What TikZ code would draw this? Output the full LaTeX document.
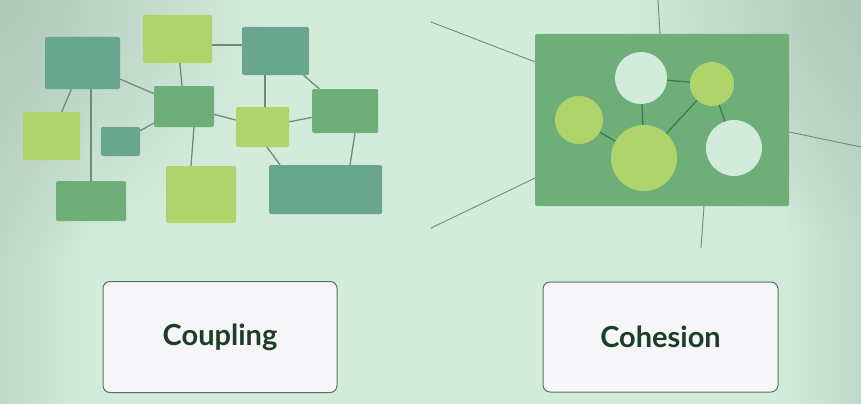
\documentclass[tikz,border=0pt]{standalone}
\usepackage{fontspec}
\setmainfont{Lato}
\usetikzlibrary{calc,fadings}
\definecolor{bgmint}{HTML}{D3EBDB}
\definecolor{bgshade}{HTML}{B0C8B9}
\definecolor{boxteal}{HTML}{68A690}
\definecolor{boxmoss}{HTML}{6EAF79}
\definecolor{boxlime}{HTML}{B0D46C}
\definecolor{linkgray}{HTML}{6F8C79}
\definecolor{innerlink}{HTML}{3E7A4C}
\definecolor{labelink}{HTML}{1E3D25}
\definecolor{labelrim}{HTML}{56745C}
\definecolor{labelfill}{HTML}{F6F6F8}
\tikzfading[name=fadeoutright, left color=transparent!0, right color=transparent!100]
\tikzfading[name=fadeoutleft, left color=transparent!100, right color=transparent!0]
\tikzfading[name=fadeoutcirc, inner color=transparent!0, outer color=transparent!100]
\tikzset{
  blk/.style={rectangle, rounded corners=1.5pt, inner sep=0pt},
  tealblk/.style={blk, fill=boxteal},
  mossblk/.style={blk, fill=boxmoss},
  limeblk/.style={blk, fill=boxlime},
  dot/.style={circle, inner sep=0pt},
  limedot/.style={dot, fill=boxlime},
  paledot/.style={dot, fill=bgmint},
  link/.style={draw=linkgray, line width=1.3pt},
  thinlink/.style={draw=linkgray!85!gray, line width=0.9pt},
  innerlinks/.style={draw=innerlink, line width=1.3pt},
  labelbox/.style={rectangle, rounded corners=7pt, draw=labelrim, line width=1pt,
    fill=labelfill, text=labelink, font=\bfseries\fontsize{29}{33}\selectfont}
}
\newcommand{\blk}[5]{\node[#1, minimum width=#4pt, minimum height=#5pt] (#2) at (#3) {};}
\newcommand{\dt}[4]{\node[#1, minimum size=#4pt] (#2) at (#3) {};}

\begin{document}
\begin{tikzpicture}[x=1pt, y=-1pt]
\useasboundingbox (0,0) rectangle (861,404);
% background
\begin{scope}
\clip (0,0) rectangle (861,404);
\fill[bgmint] (0,0) rectangle (861,404);
\fill[bgshade, opacity=0.5, path fading=fadeoutright] (0,0) rectangle (90,404);
\fill[bgshade, opacity=0.5, path fading=fadeoutleft] (780,0) rectangle (861,404);
\fill[bgshade, path fading=fadeoutcirc] (0,0) circle (260);
\fill[bgshade, path fading=fadeoutcirc] (861,0) circle (240);
\end{scope}
% coupling blocks
\blk{tealblk}{A}{82.5,63}{75}{52}
\blk{limeblk}{B}{177.5,39}{69}{48}
\blk{tealblk}{C}{275.5,51}{67}{48}
\blk{limeblk}{D}{51.5,136}{57}{48}
\blk{tealblk}{E}{120.5,141.5}{39}{29}
\blk{mossblk}{F}{184,106.5}{60}{41}
\blk{limeblk}{G}{262.5,127}{53}{40}
\blk{mossblk}{H}{345,111}{66}{44}
\blk{mossblk}{I}{91,201}{70}{40}
\blk{limeblk}{J}{201,194.5}{70}{57}
\blk{tealblk}{K}{325.5,189.5}{113}{49}
% coupling links
\draw[link] (A) -- (D);
\draw[link] (A.south -| I.north) -- (I.north);
\draw[link] (A) -- (F);
\draw[link] (B) -- (F);
\draw[link] ([yshift=-6pt]B.east) -- ([yshift=-6pt]B.east -| C.west);
\draw[link] (E) -- (F);
\draw[link] ([xshift=10pt]F.south) -- ([xshift=-10pt]J.north);
\draw[link] (F) -- (G);
\draw[link] ([xshift=2.5pt]C.south -| G.north) -- ([xshift=2.5pt]G.north);
\draw[link] (C) -- (H);
\draw[link] (G) -- (H);
\draw[link] ([xshift=4.5pt]G.south) -- ([xshift=-45.5pt]K.north);
\draw[link] ([xshift=10pt]H.south) -- ([xshift=24.5pt]K.north);
% cohesion module
\node[mossblk, minimum width=254pt, minimum height=172pt] (R) at (662,120) {};
\dt{paledot}{c1}{641,78}{52}
\dt{limedot}{c2}{712,84}{44}
\dt{limedot}{c3}{579,120}{48}
\dt{limedot}{c4}{644,158}{66}
\dt{paledot}{c5}{734,148}{56}
\draw[innerlinks] (c1) -- (c2);
\draw[innerlinks] (c1) -- (c4);
\draw[innerlinks] (c3) -- (c4);
\draw[innerlinks] (c4) -- (c2);
\draw[innerlinks] (c2) -- (c5);
% outer links
\coordinate (o1) at (658,0);
\coordinate (o2) at (431,22);
\coordinate (o3) at (431,228);
\coordinate (o4) at (861,147);
\coordinate (o5) at (701,248);
\draw[thinlink] (o1) -- ([xshift=-2pt]R.north);
\draw[thinlink] (o2) -- ([yshift=-28pt]R.north west);
\draw[thinlink] (o3) -- ([yshift=28pt]R.south west);
\draw[thinlink] (o4) -- ([yshift=-12pt]R.east);
\draw[thinlink] (o5) -- ([xshift=42pt]R.south);
% labels
\node[labelbox, minimum width=234pt, minimum height=111pt] (coup) at (220,337) {Coupling};
\node[labelbox, minimum width=235pt, minimum height=110pt] (coh) at (660.5,337) {Cohesion};
\end{tikzpicture}
\end{document}
